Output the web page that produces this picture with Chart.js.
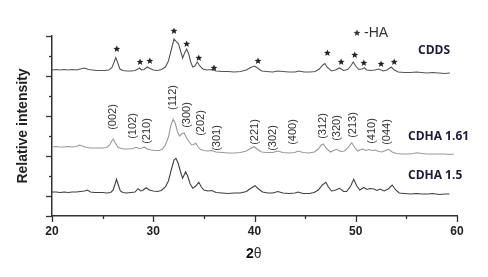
<!DOCTYPE html>
<html>
<head>
<meta charset="utf-8">
<script src="https://cdn.jsdelivr.net/npm/chart.js@4.4.1/dist/chart.umd.min.js"></script>
<style>
  html, body { margin: 0; padding: 0; background: #fff; }
</style>
</head>
<body>
<canvas id="xrd" width="488" height="277"></canvas>
<script>
const cddsTheta = [20.0, 20.4, 20.8, 21.2, 21.6, 22.0, 22.4, 22.8, 23.2, 23.6, 24.0, 24.4, 24.8, 25.2, 25.6, 25.9, 26.1, 26.3, 26.5, 26.7,
  27.0, 27.4, 27.8, 28.2, 28.5, 28.65, 28.85, 29.1, 29.4, 29.7, 30.0, 30.4, 30.8, 31.2, 31.5, 31.8, 32.05, 32.3, 32.5, 32.7,
  32.9, 33.1, 33.3, 33.5, 33.7, 33.9, 34.1, 34.35, 34.6, 34.9, 35.3, 35.8, 36.2, 36.8, 37.4, 38.0, 38.6, 39.2, 39.6, 40.0,
  40.3, 40.7, 41.2, 41.8, 42.3, 42.8, 43.4, 44.0, 44.4, 44.9, 45.5, 46.0, 46.4, 46.7, 46.95, 47.2, 47.6, 48.0, 48.4, 48.8,
  49.2, 49.5, 49.75, 50.0, 50.3, 50.6, 50.85, 51.1, 51.5, 51.9, 52.3, 52.7, 53.1, 53.5, 53.8, 54.2, 54.8, 55.4, 56.0, 56.5,
  57.0, 57.6, 58.2, 58.8, 59.3]
const cddsInt = [146, 146.5, 146, 146.5, 146, 146.5, 146, 147, 148, 146.5, 146, 145.5, 145.5, 145.5, 146, 148, 153, 158.5, 153, 147,
  145.5, 145, 145, 145.5, 147, 148, 146, 146.5, 149, 147.5, 146, 145.5, 146.5, 149, 155, 167, 177, 174, 172, 165,
  158, 163, 167, 162, 154, 149, 150, 154, 150, 147, 146, 146.5, 145, 144.5, 144.5, 144, 144.5, 146, 148.5, 150,
  148, 145, 144.5, 144, 145, 144.5, 144, 144, 145, 144, 144, 144.5, 147, 150.5, 152.5, 148.5, 145, 146, 148, 145.5,
  146.5, 150, 154, 150, 146.5, 147, 148, 146, 145.5, 146, 147, 145, 146, 149, 146, 144, 143.5, 143.5, 144, 143.5,
  143, 143.5, 143, 142.5, 143]

const cdha161Theta = [20.0, 20.4, 20.8, 21.2, 21.6, 22.0, 22.4, 22.7, 23.0, 23.4, 23.8, 24.2, 24.6, 25.0, 25.4, 25.7, 25.9, 26.05, 26.25, 26.5,
  26.8, 27.2, 27.6, 28.0, 28.3, 28.6, 28.9, 29.1, 29.4, 29.8, 30.2, 30.6, 30.9, 31.2, 31.5, 31.75, 31.97, 32.2, 32.4, 32.6,
  32.8, 33.05, 33.3, 33.55, 33.8, 34.0, 34.2, 34.4, 34.65, 35.0, 35.4, 35.8, 36.2, 36.8, 37.4, 38.0, 38.6, 39.2, 39.6, 39.95,
  40.3, 40.7, 41.2, 41.8, 42.3, 42.8, 43.4, 44.0, 44.3, 44.8, 45.4, 45.9, 46.3, 46.6, 46.8, 47.1, 47.5, 47.8, 48.1, 48.5,
  48.9, 49.3, 49.6, 49.9, 50.2, 50.5, 50.7, 51.0, 51.3, 51.6, 51.9, 52.3, 52.6, 52.95, 53.25, 53.6, 54.0, 54.6, 55.2, 55.7,
  56.05, 56.5, 57.0, 57.6, 58.2, 58.8, 59.3, 59.67]
const cdha161Int = [69, 69.5, 69, 69, 69.5, 69, 69.5, 71, 70, 68.5, 68, 68, 68, 68, 68.5, 71, 75, 77, 73, 69,
  67.5, 67, 67, 67.5, 68.7, 67.5, 68, 69, 67, 66, 65.5, 65.5, 67, 71, 79, 91, 96.7, 92, 84, 80,
  82, 83, 78, 74, 71, 71.5, 72.7, 69.5, 66.7, 65.5, 65, 65.5, 64, 63.5, 63, 63, 63.5, 65, 67.5, 69.3,
  66.5, 64, 63.5, 63.5, 65, 63.5, 63, 63.5, 65, 63.5, 63, 64, 67, 71, 72, 67.5, 64, 65.5, 66.7, 64.5,
  65, 69, 73.3, 68.5, 65, 66.5, 67, 65.5, 66.5, 65.5, 66, 64.5, 64, 65.5, 66.7, 64, 62.5, 62, 62, 62.5,
  63.3, 62.5, 62, 62, 62, 62, 61.5, 62]

const cdha15Theta = [20.0, 20.4, 20.8, 21.2, 21.6, 22.0, 22.4, 22.8, 23.2, 23.5, 23.8, 24.2, 24.6, 25.0, 25.4, 25.8, 26.05, 26.2, 26.37, 26.55,
  26.75, 27.0, 27.4, 27.8, 28.2, 28.5, 28.75, 28.95, 29.3, 29.6, 30.0, 30.4, 30.8, 31.2, 31.5, 31.8, 32.05, 32.24, 32.45, 32.7,
  32.9, 33.05, 33.2, 33.4, 33.65, 33.9, 34.2, 34.5, 34.75, 35.0, 35.4, 35.8, 36.2, 36.8, 37.4, 38.0, 38.6, 39.2, 39.6, 40.05,
  40.4, 40.8, 41.3, 41.8, 42.3, 42.8, 43.4, 44.0, 44.3, 44.8, 45.4, 45.9, 46.3, 46.7, 47.05, 47.3, 47.6, 47.9, 48.4, 48.8,
  49.1, 49.5, 49.8, 50.1, 50.4, 50.8, 51.1, 51.4, 51.8, 52.1, 52.4, 52.8, 53.2, 53.6, 53.95, 54.3, 54.8, 55.4, 56.0, 56.5,
  57.1, 57.6, 58.2, 58.8, 59.25]
const cdha15Int = [24, 24, 23.5, 24, 23.5, 24, 24, 24.5, 25, 26, 24, 23.5, 23.5, 23.5, 23, 23.5, 26, 31, 36.7, 31,
  25, 23.5, 23, 23.5, 24, 27.3, 25, 25.5, 28.3, 26, 25, 24.5, 25.5, 29, 35, 47, 56, 57.7, 53, 44,
  37.7, 41, 44.3, 40, 32, 27.7, 30, 33.7, 29, 26, 25, 25.5, 23.5, 23, 22.5, 23, 23, 24.5, 27.5, 30.3,
  27, 24, 23, 23, 24.5, 23, 22.5, 23, 24, 22.5, 22.5, 23.5, 26, 31, 33.7, 29, 25, 25.5, 27.7, 24.5,
  24.5, 30, 36.7, 30, 26, 28.5, 26.5, 27.5, 27, 25.5, 27, 25, 27, 31, 26, 23, 22.5, 22, 22.5, 22,
  22, 22.5, 21.5, 22, 22]

// estrellas (fase HA) sobre CDDS
const starTheta = [26.4, 28.7, 29.66, 32.05, 33.3, 34.5, 36.0, 40.35, 47.2, 48.56, 49.9, 50.8, 52.5, 53.8]
const starLevel = [167, 154, 155, 185, 172, 158, 148, 155, 163, 154, 161, 153, 152, 154]

// indices de Miller sobre CDHA 1.61
const millerLabels = ['(002)', '(102)', '(210)', '(112)', '(300)', '(202)', '(301)', '(221)', '(302)', '(400)', '(312)', '(320)', '(213)', '(410)', '(044)']
const millerTheta = [26.0, 28.0, 29.4, 31.97, 33.3, 34.75, 36.3, 40.0, 41.8, 43.8, 46.8, 48.15, 49.75, 51.6, 53.1]
const millerLevel = [99, 90, 85, 118.5, 101, 93, 78, 84, 78, 84, 90, 88, 91, 85, 84]

const xTicks = [20, 30, 40, 50, 60]

const toPoints = (xs, ys) => xs.map((v, i) => ({x: v, y: ys[i]}))

const drawStar = (ctx, cx, cy, r) => {
  ctx.beginPath()
  for (let k = 0; k < 10; k++) {
    const rad = k % 2 === 0 ? r : r * 0.45
    const a = -Math.PI / 2 + k * Math.PI / 5
    const px = cx + rad * Math.cos(a), py = cy + rad * Math.sin(a)
    if (k === 0) ctx.moveTo(px, py); else ctx.lineTo(px, py)
  }
  ctx.closePath()
  ctx.fill()
}

const anotaciones = {
  id: 'anotaciones',
  afterDraw(chart) {
    const {ctx, scales: {x, y}} = chart
    ctx.save()

    // marcas de los ejes
    ctx.strokeStyle = '#333'
    ctx.lineWidth = 1.3
    y.ticks.forEach(t => {
      const py = Math.round(y.getPixelForValue(t.value)) + 0.5
      const len = (t.value === 0 || (t.value - 20) % 40 === 0) ? 6 : 3
      ctx.beginPath(); ctx.moveTo(x.left, py); ctx.lineTo(x.left - len, py); ctx.stroke()
    })
    x.ticks.forEach(t => {
      const px = Math.round(x.getPixelForValue(t.value)) + 0.5
      const len = t.value % 10 === 0 ? 6 : 3
      ctx.beginPath(); ctx.moveTo(px, y.bottom); ctx.lineTo(px, y.bottom + len); ctx.stroke()
    })

    // estrellas
    ctx.fillStyle = '#222'
    starTheta.forEach((t, i) => drawStar(ctx, x.getPixelForValue(t), y.getPixelForValue(starLevel[i]), 3.6))

    // indices
    ctx.font = '11px "Liberation Sans", Arial, sans-serif'
    ctx.fillStyle = '#333'
    ctx.textAlign = 'center'
    ctx.textBaseline = 'middle'
    millerLabels.forEach((lab, i) => {
      ctx.save()
      ctx.translate(x.getPixelForValue(millerTheta[i]), y.getPixelForValue(millerLevel[i]))
      ctx.rotate(-Math.PI / 2)
      ctx.fillText(lab, 0, 0)
      ctx.restore()
    })

    // leyenda * -HA
    drawStar(ctx, 357, 33, 3.6)
    ctx.font = '14px "Liberation Sans", Arial, sans-serif'
    ctx.textAlign = 'left'
    ctx.fillText('-HA', 364, 33)

    // nombres de muestras
    ctx.fillStyle = '#1b1b3a'
    ctx.font = 'bold 12px "Open Sans", sans-serif'
    ctx.fillText('CDDS', 418, 51)
    ctx.fillText('CDHA 1.61', 408, 137)
    ctx.fillText('CDHA 1.5', 408, 176)

    // titulo eje x: 2θ
    ctx.fillStyle = '#111'
    ctx.font = 'bold 14px "Liberation Sans", Arial, sans-serif'
    const w2 = ctx.measureText('2').width
    ctx.fillText('2', 246, 254)
    ctx.font = '14px "Liberation Sans", Arial, sans-serif'
    ctx.fillStyle = '#333'
    ctx.fillText('θ', 246 + w2, 254)

    ctx.restore()
  }
}

const lineStyle = (color) => ({
  borderColor: color,
  borderWidth: 1.1,
  pointRadius: 0,
  tension: 0,
  fill: false
})

new Chart(document.getElementById('xrd'), {
  type: 'line',
  data: {
    datasets: [
      {label: 'CDDS', data: toPoints(cddsTheta, cddsInt), ...lineStyle('#555')},
      {label: 'CDHA 1.61', data: toPoints(cdha161Theta, cdha161Int), ...lineStyle('#999')},
      {label: 'CDHA 1.5', data: toPoints(cdha15Theta, cdha15Int), ...lineStyle('#404040')}
    ]
  },
  options: {
    responsive: false,
    animation: false,
    devicePixelRatio: 1,
    layout: {padding: {top: 36, right: 31, left: 0, bottom: 0}},
    plugins: {legend: {display: false}, tooltip: {enabled: false}},
    scales: {
      x: {
        type: 'linear',
        min: 20,
        max: 60,
        afterFit: (scale) => { scale.height = 61 },
        grid: {display: false, drawTicks: false},
        border: {display: true, color: '#333', width: 1.5},
        ticks: {
          stepSize: 5,
          autoSkip: false,
          maxRotation: 0,
          padding: 8,
          color: '#222',
          font: {family: '"Liberation Sans", Arial, sans-serif', size: 12, weight: 'bold'},
          callback: (v) => xTicks.includes(v) ? String(v) : ''
        }
      },
      y: {
        min: 0,
        max: 180,
        afterFit: (scale) => { scale.width = 52 },
        grid: {display: false, drawTicks: false},
        border: {display: true, color: '#333', width: 1.5},
        ticks: {display: false, stepSize: 20},
        title: {
          display: true,
          text: 'Relative intensity',
          color: '#222',
          padding: {top: 15, bottom: 0},
          font: {family: '"Liberation Sans", Arial, sans-serif', size: 14, weight: 'bold'}
        }
      }
    }
  },
  plugins: [anotaciones]
})
</script>
</body>
</html>
